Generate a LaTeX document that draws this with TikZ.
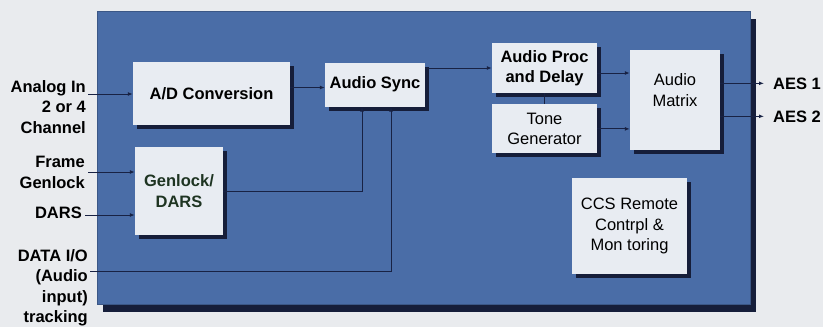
\documentclass[tikz,border=0pt]{standalone}
\usepackage{fontspec}
\setmainfont{Liberation Sans}
\usetikzlibrary{positioning,arrows.meta,shadows}

\definecolor{pozadina}{RGB}{233,235,238}
\definecolor{plava}{RGB}{74,109,167}
\definecolor{tamna}{RGB}{22,30,58}
\definecolor{kutija}{RGB}{232,236,242}
\definecolor{linija}{RGB}{24,34,68}
\definecolor{zelena}{RGB}{30,52,34}

\begin{document}
\begin{tikzpicture}[x=1pt, y=-1pt, node distance=11pt and 10pt,
  arrow/.style={-{Latex[length=5pt,width=4pt]}, line width=1pt, color=linija},
  veza/.style={line width=1pt, color=linija},
  panel/.style={fill=plava, draw=plava!80!black, line width=0.6pt, minimum width=653pt, minimum height=293pt,
    drop shadow={shadow xshift=6pt, shadow yshift=-8pt, fill=tamna, opacity=1}},
  box/.style={fill=kutija, inner sep=0pt, align=center, font=\fontsize{16.5}{20.5}\selectfont\bfseries,
    drop shadow={shadow xshift=4pt, shadow yshift=-4pt, fill=tamna, opacity=1}},
  regular/.style={font=\fontsize{16.5}{20.5}\selectfont},
  lbl/.style={inner sep=0pt, align=right, font=\fontsize{16.5}{20.5}\selectfont\bfseries}]

\useasboundingbox[fill=pozadina] (0,0) rectangle (823,327);

%plava ploca
\node[panel] (ploca) at (423.5,157.5) {};

%blokovi
\node[box, minimum width=157pt, minimum height=63pt] (ad) at (211.5,93.5) {A/D Conversion};
\node[box, minimum width=88pt, minimum height=88pt, text=zelena] (gen) at (179,191) {Genlock/\\DARS};
\node[box, minimum width=100pt, minimum height=44pt] (sync) at (375,84.5) {Audio Sync};
\node[box, minimum width=105pt, minimum height=50pt] (proc) at (544.5,68) {Audio Proc\\and Delay};
\node[box, regular, minimum width=105pt, minimum height=49pt, below=11pt of proc] (tone) {Tone\\Generator};
\node[box, minimum width=90pt, minimum height=100pt] (matrix) at (675,100) {};
\node[regular, align=center, inner sep=0pt] (matrixtxt) at ([yshift=10pt]matrix.center) {Audio\\Matrix};
\node[box, regular, minimum width=115pt, minimum height=96pt] (ccs) at (629.5,226) {CCS Remote\\Contrpl \&\\Mon toring};

%ulazi i izlazi
\node[lbl, anchor=north east] (analog) at (86,80) {Analog In\\2 or 4\\Channel};
\node[lbl, anchor=north east] (frame) at (85,156) {Frame\\Genlock};
\node[lbl, anchor=base east] (dars) at (82,218) {DARS};
\node[lbl, anchor=north east] (data) at (88,249) {DATA I/O\\(Audio\\input)\\tracking};
\node[lbl, anchor=base west] (aes1) at (773,89) {AES 1};
\node[lbl, anchor=base west] (aes2) at (773,122) {AES 2};

\coordinate (a1) at (88,94);
\coordinate (f1) at (88,172);
\coordinate (d1) at (85,215);
\coordinate (io) at (90,271);
\coordinate (s1) at ([yshift=-3pt]sync.west);

%strelice prema blokovima
\draw[arrow] (a1) -- (a1 -| ad.west);
\draw[arrow] (f1) -- (f1 -| gen.west);
\draw[arrow] (d1) -- (d1 -| gen.west);
\draw[arrow] (io) -| ([xshift=16pt]sync.south);
\draw[arrow] (gen.east) -| ([xshift=-13pt]sync.south);
\draw[arrow] (ad.east |- s1) -- (s1);
\draw[arrow] (sync.east |- proc.west) -- (proc.west);
\draw[arrow] ([yshift=-5pt]proc.east) -- ([yshift=-5pt]proc.east -| matrix.west);
\draw[arrow] (tone.east) -- (tone.east -| matrix.west);
\draw[veza] (proc.south) -- (tone.north);

%izlazi
\draw[arrow] (matrix.east |- aes1.west) -- ([xshift=-9pt]aes1.west);
\draw[arrow] (matrix.east |- aes2.west) -- ([xshift=-9pt]aes2.west);

\end{tikzpicture}
\end{document}
